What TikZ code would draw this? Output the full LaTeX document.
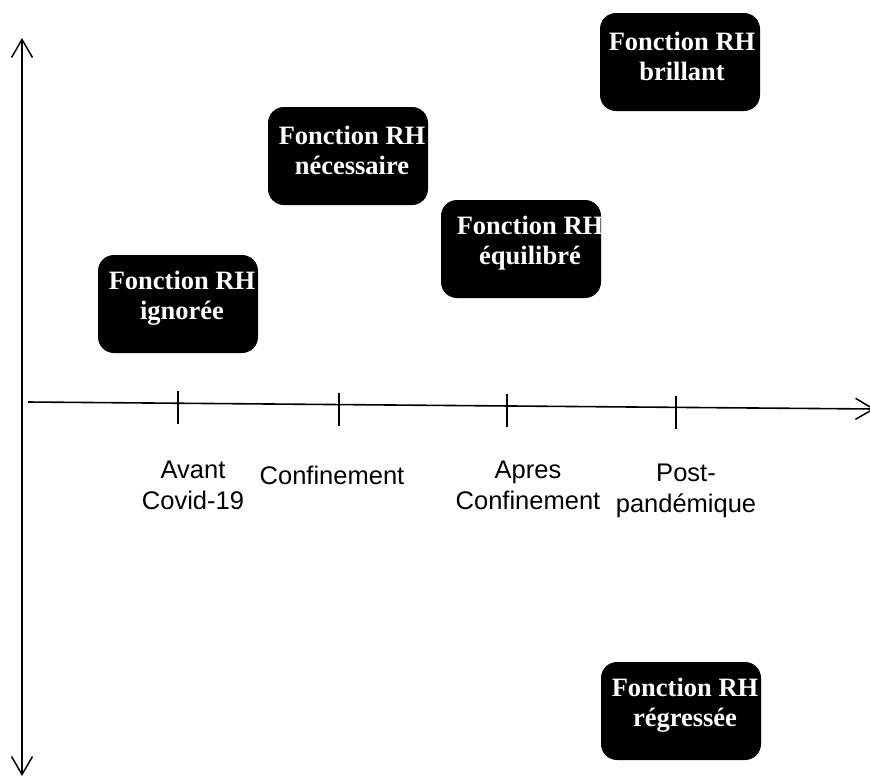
\documentclass[tikz,border=0pt]{standalone}
\usepackage{fontspec}
\setmainfont{Liberation Serif}
\newfontfamily\arialf{Liberation Sans}
\usetikzlibrary{arrows.meta}
\begin{document}
\begin{tikzpicture}[x=1pt,y=-1pt,
  hrbox/.style={fill=black, rounded corners=16pt, minimum width=160pt, minimum height=98pt, inner sep=0pt},
  hrtext/.style={text=white, font=\fontsize{26.5}{30}\selectfont\bfseries, align=center, inner sep=0pt},
  axlabel/.style={font=\arialf\fontsize{25.5}{31}\selectfont, align=center, inner sep=0pt},
  axis/.style={line width=1.6pt, -{Straight Barb[length=18pt,width=21pt,line width=1.5pt]}},
  tick/.style={line width=1.6pt}]
\useasboundingbox (0,0) rectangle (870,777);
% axes
\coordinate (vtop) at (22,38);
\coordinate (vbot) at (22,776);
\coordinate (vmid) at (22,400);
\draw[axis] (vmid) -- (vtop);
\draw[axis] (vmid) -- (vbot);
\coordinate (hl) at (28,402);
\coordinate (hr) at (875,409);
\draw[axis] (hl) -- (hr);
% ticks
\foreach \n/\x/\y in {a/178/403.3, b/339/404.7, c/507/406.1, d/676/407.5}{
  \coordinate (t\n1) at (\x,\y-12);
  \coordinate (t\n2) at (\x,\y+21);
  \draw[tick] (t\n1) -- (t\n2);
}
% axis labels
\node[axlabel] (l1) at (193,485) {Avant\\Covid-19};
\node[axlabel] (l2) at (332,475) {Confinement};
\node[axlabel] (l3) at (528,485) {Apres\\Confinement};
\node[axlabel] (l4) at (686,491) {Post-\\pandémique};
% boxes
\node[hrbox] (b1) at (178,304) {};
\node[hrtext] (x1) at (182,298) {Fonction RH\\ignorée};
\node[hrbox] (b2) at (348,156) {};
\node[hrtext] (x2) at (352,150) {Fonction RH\\nécessaire};
\node[hrbox] (b3) at (521,249) {};
\node[hrtext] (x3) at (530,243) {Fonction RH\\équilibré};
\node[hrbox] (b4) at (680,62) {};
\node[hrtext] (x4) at (682,56) {Fonction RH\\brillant};
\node[hrbox] (b5) at (681,711) {};
\node[hrtext] (x5) at (685,705) {Fonction RH\\régressée};
\end{tikzpicture}
\end{document}
